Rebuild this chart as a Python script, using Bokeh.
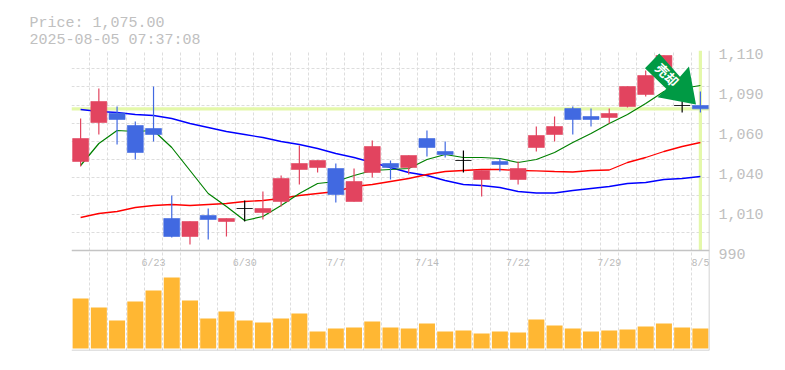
from bokeh.embed import file_html
from bokeh.resources import INLINE
from bokeh.plotting import figure
from bokeh.models import (ColumnDataSource, FixedTicker, Grid, LinearAxis, Range1d, Span, Title)
from bokeh.core.properties import value
import math

open_ = [1043.4,1066.8,1072.4,1065,1063.2,1009.2,998.4,1011,1007.4,1015.2,1012.8,1019.4,1038.6,1039.8,1039.2,1019.4,1036.8,1042.2,1039.8,1057.2,1049.4,1044,1032.6,1043.4,1032.6,1051.8,1059.6,1075.2,1070.4,1069.8,1076.4,1083.6,1095,1077,1077]
close = [1057.2,1079.4,1068.6,1048.8,1059.6,998.4,1007.4,1008.6,1009.2,1015.2,1015.2,1033.2,1042.2,1044,1023.6,1031.4,1052.4,1039.8,1047,1051.8,1047.6,1044,1038,1041.6,1039.2,1059,1064.4,1068.6,1068.6,1072.2,1088.4,1095,1107,1077,1075]
high = [1069.2,1087.2,1076.4,1067.4,1088.4,1023,1007.4,1015.2,1009.2,1020,1025.4,1035,1053,1044,1042.2,1039.2,1056,1044,1047,1062,1055.4,1050,1038,1045.2,1043.4,1064.4,1070.4,1076.4,1075.2,1075.2,1088.4,1098,1107,1090,1085.4]
low = [1040.4,1059.6,1053.6,1044.6,1055.4,997.8,993.6,996.6,998.4,1007.4,1008.6,1016.4,1029.6,1036.8,1018.8,1019.4,1033.8,1032.6,1035.6,1046.4,1045.8,1036.8,1022.4,1037.4,1029.6,1049.4,1055.4,1059.6,1064.4,1066.2,1075.8,1082.4,1093,1072.8,1072.8]
ma_short = [1041,1054.2,1062,1061.4,1062,1051.8,1038,1024.2,1016.4,1008,1010.4,1017,1024.2,1030.2,1031.4,1035,1038,1038.6,1039.2,1044.6,1047.6,1045.8,1045.8,1045.2,1042.8,1044.6,1048.8,1054.8,1060.2,1066.2,1071.6,1078.2,1085.4,1087.2,1089]
ma_mid = [1009.8,1012.2,1013.4,1015.8,1017,1017.6,1017,1017.6,1018.2,1019.4,1020,1021.2,1023,1024.2,1025.4,1028.4,1029.6,1031.4,1033.2,1035.6,1037.4,1038,1038.6,1038.6,1038,1037.8,1037.4,1037.1,1038,1038.3,1042.8,1045.8,1049.4,1052.4,1054.8]
ma_long = [1074.6,1073.4,1072.8,1071.6,1071,1069.2,1066.2,1063.8,1061.4,1059.6,1057.8,1055.4,1053.6,1051.2,1048.2,1045.8,1042.8,1039.8,1036.8,1035,1032,1029.6,1029,1027.8,1025.4,1024.5,1024.5,1026,1027.2,1028.4,1030.2,1030.8,1032.6,1033.2,1034.4]
volume = [50,41,28,47,58,71,48,30,37,28,26,30,35,17,20,21,27,21,20,25,17,18,15,17,16,29,23,20,17,18,19,22,25,21,20]
date_idx = [4,9,14,19,24,29,34]
date_labels = ["6/23","6/30","7/7","7/14","7/22","7/29","8/5"]
price_ticks = [990,1014,1038,1062,1086,1110]
price_tick_labels = ["990","1,010","1,040","1,060","1,090","1,110"]
last_price = 1075
header = ["Price: 1,075.00","2025-08-05 07:37:08"]

RED, BLUE, BLACK = "#e2445f", "#4169e1", "#000000"
GRID, FRAME, TEXT = "#dddddd", "#c4c4c4", "#c0c0c0"
HILITE = "#e4f8aa"

n = len(close)
idx = list(range(n))
W, H = 638, 300
px_x = n / W          # x units per pixel
px_y = 180 / H        # price units per pixel

p = figure(width=785, height=354, output_backend="svg", toolbar_location=None,
           min_border_left=71, min_border_right=76, min_border_top=50, min_border_bottom=4,
           x_range=Range1d(-0.5, n - 0.5), y_range=Range1d(930, 1110),
           x_axis_type=None, y_axis_type=None, outline_line_color=None)
p.xgrid.visible = False
p.ygrid.visible = False

p.extra_y_ranges = {"vol": Range1d(-2, 298), "labels": Range1d(931.8, 1111.8)}

axis = LinearAxis(y_range_name="labels", ticker=FixedTicker(ticks=price_ticks),
                  major_label_overrides=dict(zip(price_ticks, price_tick_labels)),
                  axis_line_color=None, major_tick_line_color=None, minor_tick_line_color=None,
                  major_label_standoff=3, major_label_text_color=TEXT,
                  major_label_text_font="Liberation Mono", major_label_text_font_size="15px")
p.add_layout(axis, "right")

xg = Grid(dimension=0, ticker=FixedTicker(ticks=[i - 0.5 for i in range(n)]),
          grid_line_color=GRID, grid_line_dash="3 2", grid_line_width=1)
yg = Grid(dimension=1, ticker=FixedTicker(ticks=[1110 - 120 * j / 11 for j in range(11)]),
          grid_line_color=GRID, grid_line_dash="3 2", grid_line_width=1)
p.add_layout(xg, "center")
p.add_layout(yg, "center")

for loc, dim in ((990, "width"), (930, "width"), (n - 0.5, "height")):
    p.add_layout(Span(location=loc, dimension=dim, line_color=FRAME, line_width=1.5))

# current price cross-hair
p.segment(x0=[-0.5, n - 1], y0=[last_price, 990], x1=[n - 0.5, n - 1], y1=[last_price, 1110],
          line_color=HILITE, line_width=3.2)

# moving averages
p.line(idx, ma_long, line_color="#0000ff", line_width=1.3)
p.line(idx, ma_mid, line_color="#ff0000", line_width=1.3)
p.line(idx, ma_short, line_color="#008000", line_width=1.2)

colors = [BLACK if c == o else (RED if c > o else BLUE) for o, c in zip(open_, close)]
src = ColumnDataSource(dict(x=idx, o=open_, c=close, h=high, l=low, col=colors))
p.segment("x", "h", "x", "l", source=src, line_color="col", line_width=1.2)
p.vbar("x", top="o", bottom="c", width=16 * px_x, source=src, fill_color="col", line_color="col",
       line_width=0.6)

# volume
p.vbar(idx, top=volume, bottom=0, width=16 * px_x, y_range_name="vol",
       fill_color="#ffb733", line_color=None)

# date labels
p.text(date_idx, [982.2] * len(date_idx), text=date_labels, text_align="center", text_baseline="middle",
       text_color="#bbbbbb", text_font=value("Liberation Mono"), text_font_size="10px")

# sell arrow anchored on the last candle
ax = n - 1
ay = last_price
shape_dx = [-41.1, -20.4, -11.4, -4.4, -42.8, -34.1, -55.4]
shape_dy = [-55.3, -32, -42.3, -4.3, -11.6, -20, -40.6]
p.patch([ax + d * px_x for d in shape_dx], [ay - d * px_y for d in shape_dy],
        fill_color="#009a44", line_color=None)
p.text([ax - 33.1 * px_x], [ay + 34.3 * px_y], text=["売却"], angle=-math.pi / 4,
       text_align="center", text_baseline="middle", text_color="#ffffff",
       text_font=value("Noto Sans CJK JP"), text_font_style="bold", text_font_size="13px")

# header: two lines above the frame
p.add_layout(Title(text="\n".join(header), align="left", offset=-42, standoff=0, text_color=TEXT,
                   vertical_align="top", text_baseline="middle", text_font="Liberation Mono",
                   text_font_size="15px", text_line_height=1.0, text_font_style="normal"), "above")

open("out.html", "w").write(file_html(p, INLINE))
